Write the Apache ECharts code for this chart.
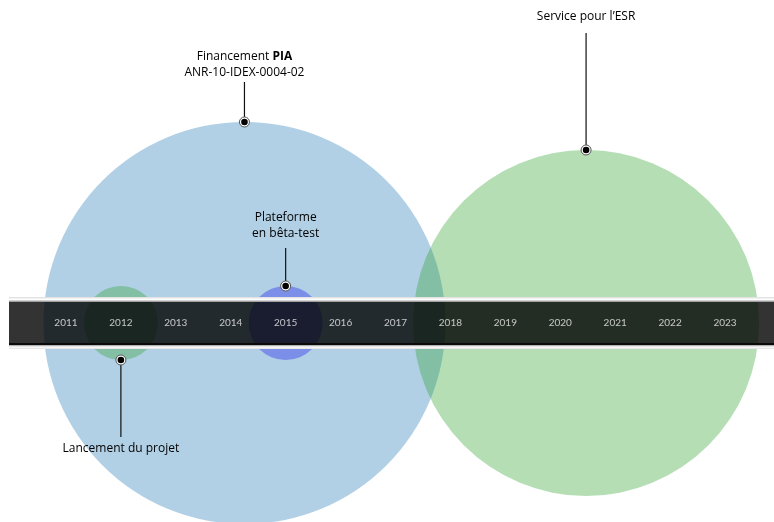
<!DOCTYPE html>
<html>
<head>
<meta charset="utf-8">
<script src="https://cdn.jsdelivr.net/npm/echarts@6/dist/echarts.min.js"></script>
<style>
  html, body { margin: 0; padding: 0; background: #fff; }
  #chart { width: 774px; height: 522px; }
</style>
</head>
<body>
<div id="chart"></div>
<script>
// années de la frise
var years = [2011, 2012, 2013, 2014, 2015, 2016, 2017, 2018, 2019, 2020, 2021, 2022, 2023];

// cercles : position (année) et diamètre
var circleYears = [2014.25, 2020.47, 2012, 2015];
var circleSizes = [402, 346, 74, 74];
var circleColors = ['rgba(31,119,180,0.35)', 'rgba(44,160,44,0.35)', 'rgba(44,160,44,0.35)', 'rgba(25,24,238,0.35)'];

// annotations : année, cercle visé, côté (1 = haut, -1 = bas), texte
var eventYears = [2012, 2014.25, 2015, 2020.47];
var eventCircle = [2, 0, 3, 1];
var eventSide = [-1, 1, 1, 1];
var eventLine = [77, 40, 38, 117];
var eventGap = [4, 1, 6, 8];
var eventText = [
  '{n|Lancement du projet}',
  '{n|Financement }{b|PIA}\n{n|ANR-10-IDEX-0004-02}',
  '{n|Plateforme}\n{n|en bêta-test}',
  '{n|Service pour l\u2019ESR}'
];

var chart = echarts.init(document.getElementById('chart'));

var circleData = [];
for (var i = 0; i < circleYears.length; i++) {
  circleData.push({
    value: [circleYears[i], 0],
    symbolSize: circleSizes[i],
    itemStyle: { color: circleColors[i], opacity: 1 }
  });
}

var eventData = [];
for (var j = 0; j < eventYears.length; j++) {
  eventData.push([eventYears[j], 0, j]);
}

var font = '"Open Sans", "Noto Sans", sans-serif';

var option = {
  backgroundColor: '#fff',
  animation: false,
  grid: { left: 38.5, right: 21.5, top: 0, bottom: 0 },
  xAxis: { type: 'value', min: 2010.5, max: 2023.5, show: false },
  yAxis: { type: 'value', min: -199, max: 323, show: false },
  series: [
    {
      type: 'scatter',
      z: 2,
      data: circleData,
      itemStyle: { opacity: 1 },
      silent: true
    },
    {
      // bande de la frise
      type: 'custom',
      z: 3,
      silent: true,
      data: [[2010.5, 0]],
      renderItem: function (params, api) {
        var c = api.coord([2010.5, 0]);
        var cy = c[1];
        var x0 = 9, w = api.getWidth() - 9;
        return {
          type: 'group',
          children: [
            {
              type: 'rect',
              shape: { x: x0, y: cy - 26, width: w, height: 5 },
              style: {
                fill: new echarts.graphic.LinearGradient(0, 0, 0, 1, [
                  { offset: 0, color: '#dcdcdc' },
                  { offset: 0.5, color: '#ffffff' },
                  { offset: 1, color: '#8a8a8a' }
                ])
              }
            },
            {
              type: 'rect',
              shape: { x: x0, y: cy - 21, width: w, height: 41 },
              style: { fill: 'rgba(0,0,0,0.8)' }
            },
            {
              type: 'rect',
              shape: { x: x0, y: cy + 20, width: w, height: 2 },
              style: { fill: '#0a0a0a' }
            },
            {
              type: 'rect',
              shape: { x: x0, y: cy + 22, width: w, height: 4 },
              style: {
                fill: new echarts.graphic.LinearGradient(0, 0, 0, 1, [
                  { offset: 0, color: '#9a9a9a' },
                  { offset: 0.5, color: '#ffffff' },
                  { offset: 1, color: '#dedede' }
                ])
              }
            }
          ]
        };
      }
    },
    {
      // libellés des années
      type: 'scatter',
      z: 4,
      symbolSize: 0,
      silent: true,
      data: years.map(function (y) { return [y, 0]; }),
      label: {
        show: true,
        position: 'inside',
        formatter: function (p) { return p.value[0]; },
        color: '#ececec',
        fontSize: 10,
        fontFamily: 'Lato, "Open Sans", sans-serif'
      }
    },
    {
      // annotations
      type: 'custom',
      z: 5,
      silent: true,
      data: eventData,
      renderItem: function (params, api) {
        var k = api.value(2);
        var c = api.coord([api.value(0), 0]);
        var r = circleSizes[eventCircle[k]] / 2;
        var side = eventSide[k];
        var ay = c[1] - side * r;
        var ey = ay - side * eventLine[k];
        return {
          type: 'group',
          children: [
            {
              type: 'line',
              shape: { x1: c[0], y1: ay, x2: c[0], y2: ey },
              style: { stroke: '#111', lineWidth: 1.2 }
            },
            {
              type: 'circle',
              shape: { cx: c[0], cy: ay, r: 5 },
              style: { fill: '#fff', stroke: '#555', lineWidth: 1 }
            },
            {
              type: 'circle',
              shape: { cx: c[0], cy: ay, r: 3.3 },
              style: { fill: '#000' }
            },
            {
              type: 'text',
              x: c[0],
              y: ey - side * eventGap[k],
              style: {
                text: eventText[k],
                align: 'center',
                verticalAlign: side > 0 ? 'bottom' : 'top',
                lineHeight: 16,
                rich: {
                  n: { fontSize: 12, fontFamily: font, color: '#222', lineHeight: 16 },
                  b: { fontSize: 12, fontFamily: font, color: '#111', fontWeight: 'bold', lineHeight: 16 }
                }
              }
            }
          ]
        };
      }
    }
  ]
};

option && chart.setOption(option);
</script>
</body>
</html>
